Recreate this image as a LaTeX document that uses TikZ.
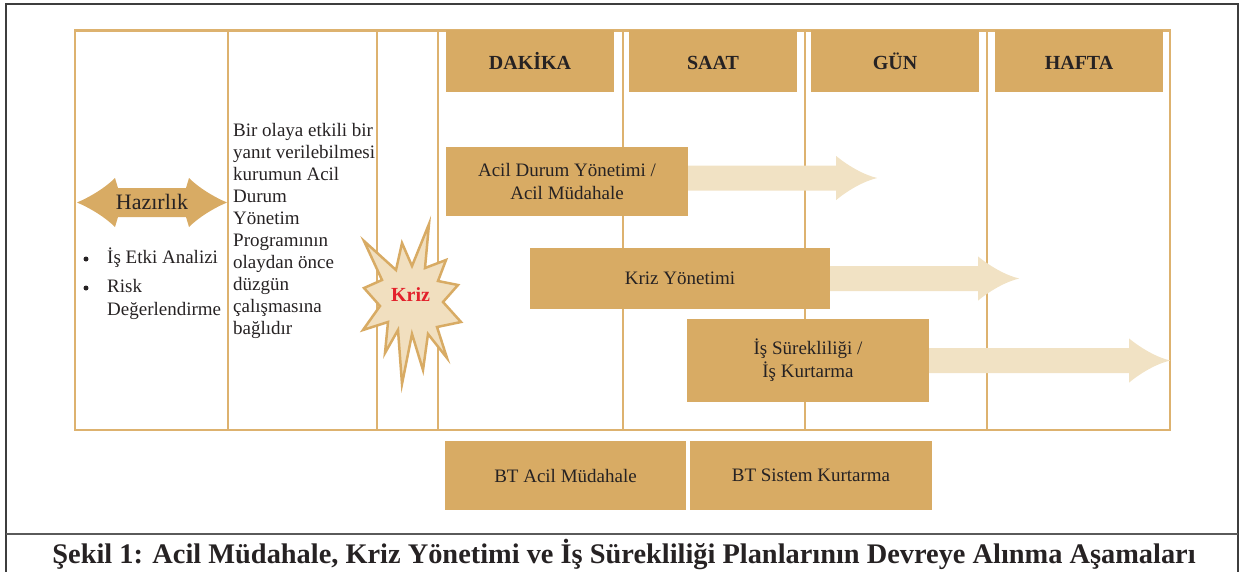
\documentclass[tikz,border=0pt]{standalone}
\usepackage{fontspec}
\usepackage{graphicx}
\setmainfont{Liberation Serif}
\usetikzlibrary{calc}

\definecolor{tan}{HTML}{D8AB64}
\definecolor{gridline}{HTML}{DDB26F}
\definecolor{pale}{HTML}{F1E2C4}
\definecolor{starfill}{HTML}{F1DFBF}
\definecolor{ink}{HTML}{262223}
\definecolor{framegray}{HTML}{3D3D3D}
\definecolor{alert}{HTML}{E3212B}

\begin{document}
\begin{tikzpicture}[x=1pt,y=-1pt,
  txt/.style={font=\fontsize{19}{23}\selectfont, text=ink},
  tanbox/.style={txt, fill=tan, inner sep=0pt, align=center},
  header/.style={tanbox, minimum width=168pt, minimum height=62pt,
                 text height=18pt, text depth=2pt,
                 font=\fontsize{20}{24}\selectfont\bfseries},
  rule/.style={gridline, line width=2.5pt},
  % light block arrow with a swept head; #1 = shaft length
  pics/flow/.style={code={
    \fill[pale] (0,-12.5) -- (#1,-12.5) -- (#1,-22)
      .. controls (#1+12,-12) and (#1+28,-3) .. (#1+41,0)
      .. controls (#1+28,3) and (#1+12,12) .. (#1,22)
      -- (#1,12.5) -- (0,12.5) -- cycle;
  }},
]
\useasboundingbox (0,0) rectangle (1242,571);

% outer frame and caption separator
\draw[framegray, line width=2pt] (6,580) -- (6,4) -- (1238,4) -- (1238,580);
\draw[framegray!85, line width=2pt] (6,534) -- (1238,534);

% table grid
\draw[rule] (75,30.5) rectangle (1170,430);
\foreach \x in {228,377,438,623,805,987}
  \draw[rule] (\x,30.5) -- (\x,430);

% time scale headers
\node[header] (dakika) at (530,61)  {DAKİKA};
\node[header] (saat)   at (713,61)  {SAAT};
\node[header] (gun)    at (895,61)  {GÜN};
\node[header] (hafta)  at (1079,61) {HAFTA};

% preparation: double-headed arrow
\fill[tan] (77,202.5) .. controls (90,197) and (105,188) .. (115,178)
  -- (118,188) -- (186,188) -- (189,178)
  .. controls (199,188) and (214,197) .. (227,202.5)
  .. controls (214,208) and (199,217) .. (189,227)
  -- (186,217) -- (118,217) -- (115,227)
  .. controls (105,217) and (90,208) .. cycle;
\node[txt, font=\fontsize{22}{26}\selectfont, inner sep=0] (hazirlik) at (152,202) {Hazırlık};

% preparation activities
\node[circle, fill=ink, inner sep=0pt, minimum size=5pt] (dot1) at (86,259) {};
\node[circle, fill=ink, inner sep=0pt, minimum size=5pt] (dot2) at (86,288) {};
\node[txt, anchor=base west, inner sep=0] (item1)  at (107,263)   {İş Etki Analizi};
\node[txt, anchor=base west, inner sep=0] (item2)  at (107,292.5) {Risk};
\node[txt, anchor=base west, inner sep=0] (item2b) at (107,315)   {Değerlendirme};

% explanatory note
\node[txt, font=\fontsize{19}{22}\selectfont, anchor=north west, inner sep=0, align=left]
  (note) at (233,123)
  {Bir olaya etkili bir\\yanıt verilebilmesi\\kurumun Acil\\Durum\\Yönetim\\Programının\\olaydan önce\\düzgün\\çalışmasına\\bağlıdır};

% crisis burst
\filldraw[fill=starfill, draw=tan, line width=2.5pt, line join=miter]
  (429,224) -- (425,268) -- (446,260) -- (438,281) -- (458,285) -- (443,302)
  -- (461,322) -- (437,327) -- (447,358) -- (428,334) -- (423,370) -- (412,334)
  -- (402,384) -- (398,330) -- (385,353) -- (388,322) -- (363,330) -- (380,306)
  -- (364,288) -- (382,280) -- (364,241) -- (396,270) -- (402,243) -- (412,266)
  -- cycle;
\node[font=\fontsize{20}{24}\selectfont\bfseries, text=alert, inner sep=0] (kriz) at (410.5,295) {Kriz};

% plans
\node[tanbox, minimum width=242pt, minimum height=69pt] (acil) at (567,181.5)
  {Acil Durum Yönetimi /\\Acil Müdahale};
\node[tanbox, minimum width=300pt, minimum height=61pt] (krizyon) at (680,278.5)
  {Kriz Yönetimi};
\node[tanbox, minimum width=242pt, minimum height=83pt] (surek) at (808,360.5)
  {İş Sürekliliği /\\İş Kurtarma};

% duration arrows
\pic at ($(acil.east)+(0,-3.5)$) {flow=148};
\pic at (krizyon.east) {flow=148};
\pic at (surek.east) {flow=200};

% IT plans
\node[tanbox, minimum width=241pt, minimum height=69pt] (btacil) at (565.5,475.5)
  {BT Acil Müdahale};
\node[tanbox, minimum width=242pt, minimum height=69pt] (btsistem) at (811,475.5)
  {BT Sistem Kurtarma};

% caption
\node[anchor=base, inner sep=0, text=ink] (caption) at (624,563)
  {\resizebox{1143pt}{!}{\bfseries Şekil 1: Acil Müdahale, Kriz Yönetimi ve İş Sürekliliği Planlarının Devreye Alınma Aşamaları}};
\end{tikzpicture}
\end{document}
